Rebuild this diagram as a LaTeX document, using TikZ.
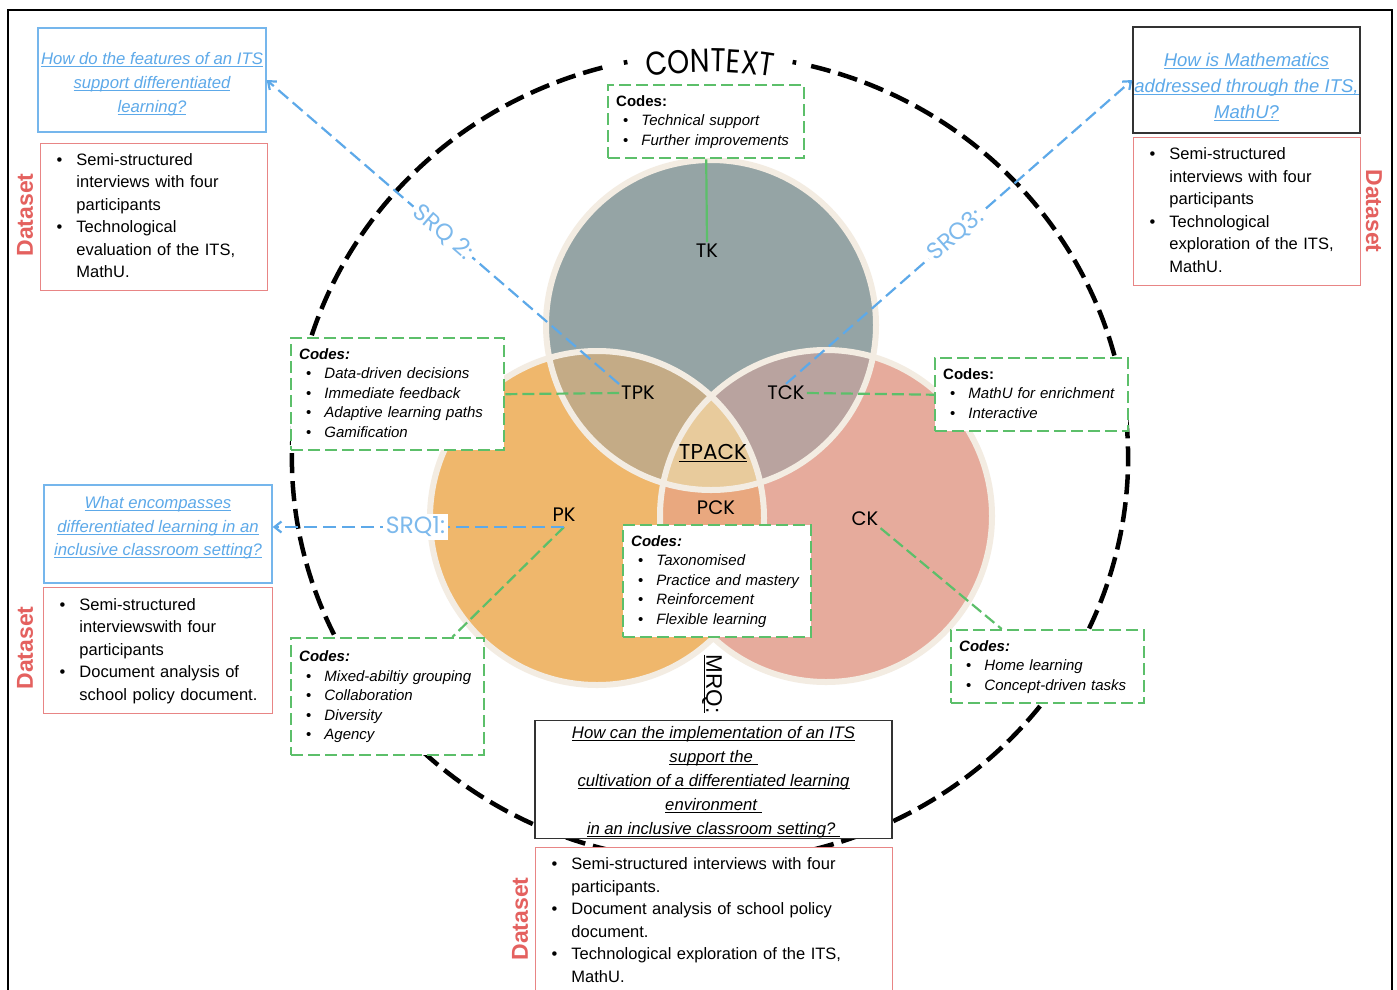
\documentclass[tikz,border=0pt]{standalone}
\usepackage{fontspec}
\setmainfont{Liberation Sans}
\newfontfamily\geo{Poppins}
\newfontfamily\ctxfont[FakeStretch=0.85]{Poppins}
\usetikzlibrary{arrows.meta,decorations.text}

% colours
\definecolor{qblue}{HTML}{5DA9E9}
\definecolor{qlight}{HTML}{7DB9EC}
\definecolor{dred}{HTML}{E4615F}
\definecolor{dredline}{HTML}{E88585}
\definecolor{cgreen}{HTML}{5CBF6A}
\definecolor{tkc}{HTML}{95A4A5}
\definecolor{pkc}{HTML}{EFB76C}
\definecolor{ckc}{HTML}{E6AB9C}
\definecolor{tpkc}{HTML}{C4AB86}
\definecolor{tckc}{HTML}{B9A39F}
\definecolor{pckc}{HTML}{E9A87F}
\definecolor{tpackc}{HTML}{E8CB9C}
\definecolor{rimc}{HTML}{F3ECE2}

% underline that keeps a fixed depth
\newcommand\undl[1]{\setbox0\hbox{#1}\leavevmode\rlap{\copy0}\rule[-2.3pt]{\wd0}{0.9pt}}
% bullet list of a dataset box
\newcommand\dlist[1]{\noindent\begin{tabular}{@{\hspace{16pt}}l@{\hspace{14pt}}l@{}}#1\end{tabular}}
% codes list: heading and bullet rows
\newcommand\clist[2]{\noindent\begin{tabular}{@{\hspace{15pt}}l@{\hspace{13pt}}l@{}}\multicolumn{2}{@{\hspace{8pt}}l@{}}{\bfseries #1}\\#2\end{tabular}}

\begin{document}
\begin{tikzpicture}[x=1pt,y=-1pt,
  qbox/.style={draw=qblue!85, fill=white, line width=1.4pt, align=center, text=qblue, inner sep=0pt,
    font=\fontsize{16.7}{24}\selectfont\itshape},
  mbox/.style={draw=black!80, fill=white, line width=1.4pt, align=center, inner sep=0pt,
    font=\fontsize{16.7}{24}\selectfont\itshape},
  dbox/.style={draw=dredline, fill=white, line width=1.4pt, anchor=north west, inner sep=0pt, align=left,
    font=\fontsize{16.5}{22.5}\selectfont},
  dlabel/.style={text=dred, font=\fontsize{23}{23}\selectfont\bfseries},
  codebox/.style={draw=cgreen, fill=white, line width=2.4pt, dash pattern=on 12pt off 5pt,
    anchor=north west, inner sep=0pt, align=left, font=\fontsize{15}{19.5}\selectfont},
  vlabel/.style={font=\geo\fontsize{19.5}{20}\selectfont, inner sep=2pt},
  srqarrow/.style={draw=qblue, line width=2.2pt, dash pattern=on 13pt off 6pt,
    -{Straight Barb[length=7pt,width=11pt]}},
  srqlabel/.style={text=qlight, fill=white, inner sep=3pt, font=\geo\fontsize{23.5}{24}\selectfont},
  gline/.style={draw=cgreen, line width=2.2pt, dash pattern=on 12pt off 5pt},
  ctxline/.style={draw=black, line width=4.5pt, dash pattern=on 20pt off 8pt},
  rim/.style={draw=rimc, line width=6pt}
]
\useasboundingbox (0,0) rectangle (1397,989);
\clip (0,0) rectangle (1397,989);
\fill[white] (0,0) rectangle (1397,989);

% outer frame
\draw[line width=2pt] (8,10) rectangle (1392,1010);

% context ring with its title
\draw[ctxline] (710,458) ++(284:418 and 404) arc[start angle=284, end angle=616, x radius=418, y radius=404];
\draw[black, line width=4.5pt] (710,458) ++(281.4:418 and 404) arc[start angle=281.4, end angle=281.9, x radius=418, y radius=404];
\draw[black, line width=4.5pt] (710,458) ++(618.1:418 and 404) arc[start angle=618.1, end angle=618.6, x radius=418, y radius=404];
\path[decorate, decoration={text along path, text align=center,
    text={|\ctxfont\fontsize{33}{33}\selectfont|CONTEXT}}]
  (710,460) ++(250:388) arc[start angle=250, end angle=290, radius=388];

% TPACK circles
\fill[tkc] (711,325) circle[radius=165];
\fill[pkc] (597,518) circle[radius=167];
\fill[ckc] (826,516) circle[radius=166];
\begin{scope}
  \clip (597,518) circle[radius=167];
  \fill[pckc] (826,516) circle[radius=166];
\end{scope}
\begin{scope}
  \clip (711,325) circle[radius=165];
  \fill[tpkc] (597,518) circle[radius=167];
  \fill[tckc] (826,516) circle[radius=166];
  \clip (597,518) circle[radius=167];
  \fill[tpackc] (826,516) circle[radius=166];
\end{scope}
\draw[rim] (711,325) circle[radius=165];
\draw[rim] (597,518) circle[radius=167];
\draw[rim] (826,516) circle[radius=166];

% circle labels
\node[vlabel] (tk) at (707,251) {TK};
\node[vlabel] (tpk) at (638,393) {TPK};
\node[vlabel] (tck) at (786,393) {TCK};
\node[vlabel, font=\geo\fontsize{21.5}{22}\selectfont] (tpack) at (713,453) {\undl{TPACK}};
\node[vlabel] (pk) at (564,515) {PK};
\node[vlabel] (pck) at (716,508) {PCK};
\node[vlabel] (ck) at (865,519) {CK};

% research questions
\node[qbox, minimum width=228pt, minimum height=104pt] (q2) at (152,80)
  {\rule{0pt}{20pt}\undl{How do the features of an ITS}\\\undl{support differentiated}\\\undl{learning?}};
\node[qbox, draw=black!80, minimum width=227pt, minimum height=106pt,
      font=\fontsize{18.5}{26}\selectfont\itshape] (q3) at (1246.5,80)
  {\rule{0pt}{26.5pt}\undl{How is Mathematics}\\\undl{addressed through the ITS,}\\\undl{MathU?}};
\node[qbox, minimum width=228pt, minimum height=98pt,
      font=\fontsize{16.7}{23.5}\selectfont\itshape] (q1) at (158,534)
  {\undl{What encompasses}\\\undl{differentiated learning in an}\\\undl{inclusive classroom setting?}\rule[-15.5pt]{0pt}{15.5pt}};
\node[mbox, minimum width=357pt, minimum height=117pt] (mq) at (713.5,779.5)
  {\rule{0pt}{18.2pt}\undl{How can the implementation of an ITS}\\\undl{support the\ }\\\undl{cultivation of a differentiated learning}\\\undl{environment\ }\\\undl{in an inclusive classroom setting?\ }};
\node[rotate=-90, font=\fontsize{22.5}{23}\selectfont] (mrq) at (712,684) {\undl{MRQ:}};

% datasets
\node[dbox, text width=227pt, minimum height=147pt] (d2) at (40,143)
  {\dlist{\textbullet & Semi-structured\\ & interviews with four\\ & participants\\
          \textbullet & Technological\\ & evaluation of the ITS,\\ & MathU.}};
\node[dbox, text width=227pt, minimum height=148pt] (d3) at (1133,137)
  {\dlist{\textbullet & Semi-structured\\ & interviews with four\\ & participants\\
          \textbullet & Technological\\ & exploration of the ITS,\\ & MathU.}};
\node[dbox, text width=229pt, minimum height=126pt] (d1) at (43,587)
  {\dlist{\textbullet & Semi-structured\\ & interviewswith four\\ & participants\\
          \textbullet & Document analysis of\\ & school policy document.}};
\node[dbox, text width=357pt, minimum height=148pt] (d0) at (535,847)
  {\dlist{\textbullet & Semi-structured interviews with four\\ & participants.\\
          \textbullet & Document analysis of school policy\\ & document.\\
          \textbullet & Technological exploration of the ITS,\\ & MathU.}};
\node[dlabel, rotate=90] (dl2) at (25,215) {Dataset};
\node[dlabel, rotate=90] (dl1) at (25,648) {Dataset};
\node[dlabel, rotate=-90] (dl3) at (1374,211) {Dataset};
\node[dlabel, rotate=90] (dl0) at (520,919) {Dataset};

% codes
\node[codebox, text width=196pt, minimum height=73pt] (c1) at (607,84)
  {\clist{Codes:}{\textbullet & \itshape Technical support\\ \textbullet & \itshape Further improvements}};
\node[codebox, text width=213pt, minimum height=112pt] (c2) at (290,337)
  {\clist{\itshape Codes:}{\textbullet & \itshape Data-driven decisions\\ \textbullet & \itshape Immediate feedback\\
     \textbullet & \itshape Adaptive learning paths\\ \textbullet & \itshape Gamification}};
\node[codebox, text width=193pt, minimum height=73pt] (c3) at (934,357)
  {\clist{Codes:}{\textbullet & \itshape MathU for enrichment\\ \textbullet & \itshape Interactive}};
\node[codebox, text width=188pt, minimum height=112pt] (c4) at (622,524)
  {\clist{\itshape Codes:}{\textbullet & \itshape Taxonomised\\ \textbullet & \itshape Practice and mastery\\
     \textbullet & \itshape Reinforcement\\ \textbullet & \itshape Flexible learning}};
\node[codebox, text width=193pt, minimum height=117pt] (c5) at (290,637)
  {\clist{\itshape Codes:}{\textbullet & \itshape Mixed-abiltiy grouping\\ \textbullet & \itshape Collaboration\\
     \textbullet & \itshape Diversity\\ \textbullet & \itshape Agency}};
\node[codebox, text width=193pt, minimum height=73pt] (c6) at (950,629)
  {\clist{\itshape Codes:}{\textbullet & \itshape Home learning\\ \textbullet & \itshape Concept-driven tasks}};

% code links
\draw[cgreen, line width=2.2pt] (c1.south) -- (tk.north);
\draw[gline] (c2.east) -- (tpk.west);
\draw[gline] (tck.east) -- (c3.west);
\draw[gline] ([yshift=-3pt]pk.south) -- ([xshift=-33pt]c5.north east);
\draw[gline] (ck.south east) -- ([xshift=-46pt]c6.north);

% sub-question links
\draw[srqarrow] (tpk.north west) -- node[srqlabel, sloped, pos=0.5] (srq2) {SRQ 2:} (q2.east);
\draw[srqarrow] (tck.north) -- node[srqlabel, sloped, pos=0.49] (srq3) {SRQ3:} (q3.west);
\draw[srqarrow] ([yshift=-3pt]pk.south) -- node[srqlabel, pos=0.51] (srq1) {SRQ1:} ([yshift=-3pt]pk.south -| q1.east);
\end{tikzpicture}
\end{document}
